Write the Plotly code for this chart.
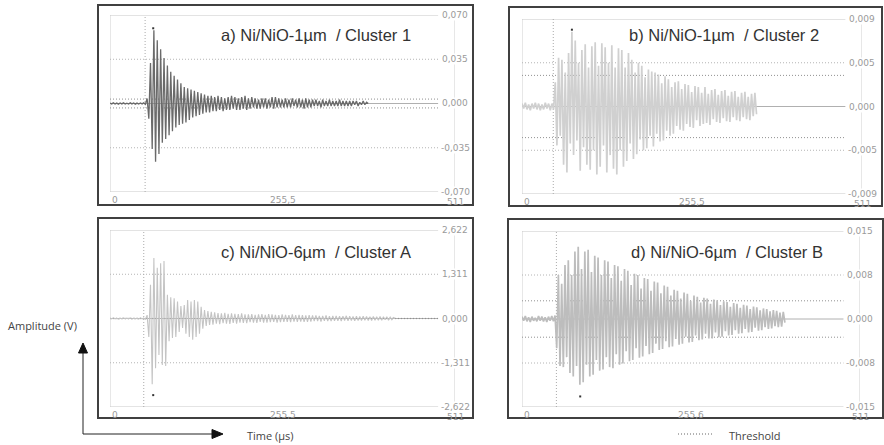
import plotly.graph_objects as go

# ---------------- data ----------------
DT = 2.5          # time step between successive half-cycle peaks (µs)
X_MAX = 511

PANEL_TITLES = ["a) Ni/NiO-1µm  / Cluster 1", "b) Ni/NiO-1µm  / Cluster 2",
                "c) Ni/NiO-6µm  / Cluster A", "d) Ni/NiO-6µm  / Cluster B"]

Y_RANGES = [0.070, 0.009, 2.622, 0.015]
Y_TICK_VALUES = [[0.070, 0.035, 0.0, -0.035, -0.070],
                 [0.009, 0.0045, 0.0, -0.0045, -0.009],
                 [2.622, 1.311, 0.0, -1.311, -2.622],
                 [0.015, 0.0075, 0.0, -0.0075, -0.015]]
Y_TICK_LABELS = [["0,070", "0,035", "0,000", "-0,035", "-0,070"],
                 ["0,009", "0,005", "0,000", "-0,005", "-0,009"],
                 ["2,622", "1,311", "0,000", "-1,311", "-2,622"],
                 ["0,015", "0,008", "0,000", "-0,008", "-0,015"]]
X_TICK_VALUES = [0, 255.5, 511]
X_TICK_LABELS = [["0", "255,5", "511"], ["0", "255,5", "511"],
                 ["0", "255,5", "511"], ["0", "255,6", "511"]]

THRESHOLDS = [0.0035, 0.0032, 0.0032, 0.0031]
PRETRIGGER_T = [52, 47, 50, 52]
PEAK_T = [64, 75, 64, 88]
PEAK_V = [0.0595, 0.0079, -2.27, -0.0132]

WAVE_A = [
    0.0004, -0.0003, 0.0005, -0.0004, 0.0003, -0.0005, 0.0004, -0.0003, 0.0005, -0.0004,
    0.0003, -0.0004, 0.0005, -0.0003, 0.0004, -0.0005, 0.0003, -0.0004, 0.0004, -0.0003,
    0.0005, -0.0006,
    0.004, -0.012, 0.032, -0.036, 0.058, -0.046, 0.050, -0.040, 0.043, -0.031,
    0.036, -0.028, 0.030, -0.025, 0.025, -0.022, 0.022, -0.019, 0.019, -0.017,
    0.016, -0.016, 0.013, -0.015, 0.012, -0.013, 0.011, -0.011, 0.010, -0.010,
    0.009, -0.009, 0.008, -0.008, 0.007, -0.007, 0.006, -0.007, 0.006, -0.006,
    0.005, -0.006, 0.006, -0.005, 0.005, -0.006, 0.004, -0.005, 0.005, -0.005,
    0.006, -0.004, 0.005, -0.005, 0.004, -0.005, 0.005, -0.004, 0.006, -0.005,
    0.004, -0.004, 0.005, -0.003, 0.004, -0.004, 0.003, -0.004, 0.004, -0.003,
    0.004, -0.004, 0.003, -0.003, 0.005, -0.004, 0.005, -0.003, 0.004, -0.003,
    0.003, -0.003, 0.004, -0.003, 0.003, -0.003, 0.004, -0.002, 0.003, -0.003,
    0.004, -0.003, 0.003, -0.004, 0.004, -0.003, 0.003, -0.003, 0.003, -0.002,
    0.003, -0.002, 0.002, -0.003, 0.003, -0.002, 0.002, -0.002, 0.003, -0.002,
    0.002, -0.002, 0.002, -0.002, 0.003, -0.002, 0.002, -0.002, 0.002, -0.002,
    0.002, -0.002, 0.002, -0.001, 0.002, -0.002, 0.001, -0.001, 0.002, -0.001,
    0.001, 0.000]

WAVE_B = [
    0.0003, -0.0002, 0.0004, -0.0003, 0.0002, -0.0004, 0.0003, -0.0002, 0.0004, -0.0003,
    0.0003, -0.0004, 0.0002, -0.0003, 0.0004, -0.0002, 0.0003, -0.0004, 0.0003, -0.0003,
    0.0025, -0.0040, 0.0050, -0.0030, 0.0048, -0.0060, 0.0035, -0.0068, 0.0055, -0.0038,
    0.0077, -0.0050, 0.0068, -0.0035, 0.0045, -0.0066, 0.0058, -0.0042, 0.0064, -0.0060,
    0.0040, -0.0065, 0.0062, -0.0045, 0.0066, -0.0070, 0.0042, -0.0062, 0.0065, -0.0040,
    0.0061, -0.0068, 0.0045, -0.0050, 0.0063, -0.0064, 0.0040, -0.0070, 0.0060, -0.0045,
    0.0058, -0.0062, 0.0040, -0.0056, 0.0055, -0.0038, 0.0048, -0.0054, 0.0035, -0.0049,
    0.0045, -0.0034, 0.0042, -0.0045, 0.0030, -0.0043, 0.0038, -0.0030, 0.0036, -0.0041,
    0.0035, -0.0028, 0.0033, -0.0036, 0.0024, -0.0035, 0.0031, -0.0025, 0.0028, -0.0030,
    0.0020, -0.0028, 0.0025, -0.0020, 0.0026, -0.0024, 0.0018, -0.0025, 0.0023, -0.0018,
    0.0022, -0.0021, 0.0015, -0.0022, 0.0021, -0.0014, 0.0020, -0.0020, 0.0014, -0.0018,
    0.0020, -0.0017, 0.0013, -0.0019, 0.0017, -0.0013, 0.0018, -0.0016, 0.0012, -0.0017,
    0.0016, -0.0012, 0.0017, -0.0015, 0.0011, -0.0016, 0.0015, -0.0011, 0.0016, -0.0014,
    0.0010, -0.0015, 0.0014, -0.0011, 0.0015, -0.0013, 0.0010, -0.0014, 0.0013, -0.0010,
    0.0014, -0.0008]

WAVE_C = [
    0.01, -0.01, 0.02, -0.01, 0.01, -0.02, 0.01, -0.01, 0.02, -0.01,
    0.01, -0.01, 0.02, -0.02, 0.01, -0.01, 0.01, -0.02, 0.02, -0.01,
    0.01, -0.02,
    0.10, -0.55, 1.00, -1.95, 1.79, -1.47, 1.50, -1.08, 1.64, -1.38,
    1.70, -1.41, 0.70, -0.67, 0.63, -0.58, 0.60, -0.55, 0.50, -0.40,
    0.37, -0.28, 0.40, -0.45, 0.55, -0.55, 0.50, -0.63, 0.55, -0.55,
    0.50, -0.45, 0.35, -0.30, 0.25, -0.22, 0.22, -0.19, 0.20, -0.18,
    0.18, -0.15, 0.16, -0.17, 0.15, -0.14, 0.17, -0.15, 0.14, -0.16,
    0.15, -0.13, 0.14, -0.15, 0.13, -0.12, 0.15, -0.13, 0.12, -0.14,
    0.12, -0.11, 0.13, -0.12, 0.11, -0.13, 0.12, -0.10, 0.13, -0.12,
    0.11, -0.12, 0.13, -0.11, 0.12, -0.10, 0.11, -0.12, 0.10, -0.11,
    0.12, -0.10, 0.11, -0.10, 0.10, -0.11, 0.12, -0.09, 0.10, -0.10,
    0.11, -0.09, 0.10, -0.10, 0.09, -0.10, 0.10, -0.09, 0.09, -0.08,
    0.09, -0.08, 0.08, -0.09, 0.08, -0.07, 0.09, -0.08, 0.07, -0.08,
    0.08, -0.07, 0.08, -0.07, 0.07, -0.08, 0.07, -0.06, 0.08, -0.07,
    0.07, -0.06, 0.06, -0.07, 0.07, -0.06, 0.06, -0.06, 0.07, -0.05,
    0.06, -0.06, 0.05, -0.06, 0.06, -0.05, 0.05, -0.05, 0.06, -0.05,
    0.05, -0.04, 0.05, -0.05, 0.04, -0.04, 0.03, 0.00]

WAVE_D = [
    0.0004, -0.0003, 0.0005, -0.0004, 0.0003, -0.0005, 0.0004, -0.0003, 0.0002, -0.0004,
    0.0005, -0.0003, 0.0004, -0.0004, 0.0003, -0.0005, 0.0004, -0.0003, 0.0005, -0.0004,
    0.0006,
    -0.0050, 0.0075, -0.0080, 0.0060, -0.0082, 0.0092, -0.0065, 0.0100, -0.0092, 0.0075,
    -0.0098, 0.0115, -0.0080, 0.0123, -0.0112, 0.0085, -0.0108, 0.0115, -0.0078, 0.0118,
    -0.0098, 0.0080, -0.0095, 0.0108, -0.0070, 0.0105, -0.0088, 0.0075, -0.0086, 0.0100,
    -0.0065, 0.0098, -0.0082, 0.0070, -0.0084, 0.0092, -0.0060, 0.0090, -0.0078, 0.0065,
    -0.0076, 0.0085, -0.0055, 0.0082, -0.0072, 0.0058, -0.0070, 0.0077, -0.0050, 0.0075,
    -0.0066, 0.0052, -0.0064, 0.0070, -0.0046, 0.0068, -0.0060, 0.0048, -0.0058, 0.0064,
    -0.0042, 0.0062, -0.0053, 0.0044, -0.0051, 0.0057, -0.0038, 0.0055, -0.0048, 0.0040,
    -0.0047, 0.0050, -0.0034, 0.0048, -0.0044, 0.0035, -0.0042, 0.0045, -0.0030, 0.0043,
    -0.0040, 0.0031, -0.0039, 0.0040, -0.0028, 0.0038, -0.0036, 0.0028, -0.0035, 0.0036,
    -0.0025, 0.0035, -0.0033, 0.0026, -0.0033, 0.0033, -0.0023, 0.0032, -0.0031, 0.0024,
    -0.0030, 0.0030, -0.0021, 0.0029, -0.0028, 0.0021, -0.0027, 0.0027, -0.0019, 0.0026,
    -0.0025, 0.0019, -0.0024, 0.0024, -0.0017, 0.0023, -0.0023, 0.0017, -0.0022, 0.0021,
    -0.0015, 0.0020, -0.0020, 0.0015, -0.0019, 0.0018, -0.0014, 0.0017, -0.0017, 0.0013,
    -0.0016, 0.0015, -0.0012, 0.0014, -0.0014, 0.0011, -0.0013, 0.0012, -0.0006]

WAVES = [WAVE_A, WAVE_B, WAVE_C, WAVE_D]
WAVE_COLORS = ["#6a6a6a", "#d0d0d0", "#c4c4c4", "#bdbdbd"]
WAVE_WIDTHS = [1.3, 1.7, 1.1, 1.7]

# ---------------- layout geometry (pixels) ----------------
W, H = 884, 445
PLOT_PX = [(110, 455, 15, 192), (522, 862, 19, 194),
           (110, 455, 230, 407), (522, 860, 231, 407)]
BOX_PX = [(98, 473, 5, 205), (509, 882, 7, 206),
          (98, 473, 218, 418), (508, 883, 219, 418)]
TITLE_PX = [(219, 35), (627, 35), (219, 252), (629, 252)]
GRID_END = 486
FINE_DOT = "1px,2px"


def px(x):
    return x / W


def py(y):
    return 1 - y / H


fig = go.Figure()
layout = dict(width=W, height=H, margin=dict(l=0, r=0, t=0, b=0),
              paper_bgcolor="white", plot_bgcolor="white", showlegend=False)
shapes = []
annotations = []

for i in range(4):
    k = "" if i == 0 else str(i + 1)
    xa, ya = "x" + k, "y" + k
    x0, x1, y0, y1 = PLOT_PX[i]
    R = Y_RANGES[i]
    layout["xaxis" + k] = dict(domain=[px(x0), px(x1)], range=[0, X_MAX], anchor=ya,
                               visible=False, fixedrange=True)
    layout["yaxis" + k] = dict(domain=[py(y1), py(y0)], range=[-R, R], anchor=xa,
                               visible=False, fixedrange=True)

    # frame lines
    light = dict(color="#cfcfcf", width=1)
    shapes.append(dict(type="line", xref=xa, yref=ya, x0=0, x1=0, y0=-R, y1=R, line=light, layer="below"))
    shapes.append(dict(type="line", xref=xa, yref=ya, x0=X_MAX, x1=X_MAX, y0=-R, y1=R, line=light, layer="below"))
    for v in Y_TICK_VALUES[i]:
        if abs(v) == R or v == 0:
            ln = dict(color="#c8c8c8" if v else "#b0b0b0", width=1)
        else:
            ln = dict(color="#b4b4b4", width=1, dash=FINE_DOT)
        shapes.append(dict(type="line", xref=xa, yref=ya, x0=0, x1=GRID_END, y0=v, y1=v,
                           line=ln, layer="below"))
    for s in (1, -1):
        shapes.append(dict(type="line", xref=xa, yref=ya, x0=0, x1=GRID_END,
                           y0=s * THRESHOLDS[i], y1=s * THRESHOLDS[i],
                           line=dict(color="#909090", width=1, dash=FINE_DOT), layer="below"))
    shapes.append(dict(type="line", xref=xa, yref=ya, x0=PRETRIGGER_T[i], x1=PRETRIGGER_T[i],
                       y0=-R, y1=R, line=dict(color="#aaaaaa", width=1, dash=FINE_DOT), layer="below"))

    # waveform
    wave = WAVES[i]
    t = [j * DT for j in range(len(wave))]
    fig.add_trace(go.Scatter(x=t, y=wave, mode="lines", xaxis=xa, yaxis=ya,
                             line=dict(color=WAVE_COLORS[i], width=WAVE_WIDTHS[i]), hoverinfo="skip"))
    fig.add_trace(go.Scatter(x=[PEAK_T[i]], y=[PEAK_V[i]], mode="markers", xaxis=xa, yaxis=ya,
                             marker=dict(color="#333", size=2, symbol="square"), hoverinfo="skip"))

    # y tick labels (right side)
    for v, lab in zip(Y_TICK_VALUES[i], Y_TICK_LABELS[i]):
        annotations.append(dict(xref=xa, yref=ya, x=X_MAX, y=v, text=lab, showarrow=False,
                                xanchor="center", yanchor="middle", bgcolor="white",
                                borderpad=0, font=dict(family="DejaVu Sans", size=9, color="#9a9a9a")))
    # x tick labels
    for v, lab in zip(X_TICK_VALUES, X_TICK_LABELS[i]):
        annotations.append(dict(xref=xa, yref=ya, x=v, y=-R, text=lab, showarrow=False,
                                xanchor="left" if v == 0 else "center", yanchor="top",
                                yshift=-1 if v != X_MAX else -3,
                                font=dict(family="DejaVu Sans", size=9, color="#9a9a9a")))
    # title
    tx, ty = TITLE_PX[i]
    annotations.append(dict(xref="paper", yref="paper", x=px(tx), y=py(ty), text=PANEL_TITLES[i],
                            showarrow=False, xanchor="left", yanchor="middle",
                            font=dict(family="Liberation Sans", size=16.5, color="#333")))
    # outer box
    bx0, bx1, by0, by1 = BOX_PX[i]
    shapes.append(dict(type="rect", xref="paper", yref="paper", x0=px(bx0), x1=px(bx1),
                       y0=py(by1), y1=py(by0), line=dict(color="#404040", width=2)))

# axis arrows (outside the panels)
dark = dict(color="#222", width=1)
shapes.append(dict(type="line", xref="paper", yref="paper", x0=px(83), x1=px(83),
                   y0=py(434), y1=py(350), line=dark))
shapes.append(dict(type="line", xref="paper", yref="paper", x0=px(83), x1=px(214),
                   y0=py(434), y1=py(434), line=dark))
shapes.append(dict(type="path", xref="paper", yref="paper",
                   path=f"M {px(83)} {py(343)} L {px(78.5)} {py(353)} L {px(87.5)} {py(353)} Z",
                   fillcolor="#111", line=dict(color="#111", width=1)))
shapes.append(dict(type="path", xref="paper", yref="paper",
                   path=f"M {px(223)} {py(434)} L {px(212)} {py(429.5)} L {px(212)} {py(438.5)} Z",
                   fillcolor="#111", line=dict(color="#111", width=1)))
# threshold legend line
shapes.append(dict(type="line", xref="paper", yref="paper", x0=px(678), x1=px(713),
                   y0=py(434), y1=py(434), line=dict(color="#666", width=1, dash=FINE_DOT)))

lab_font = dict(family="Open Sans", size=11, color="#444")
annotations.append(dict(xref="paper", yref="paper", x=px(42), y=py(325), text="Amplitude (V)",
                        showarrow=False, xanchor="center", yanchor="middle", font=lab_font))
annotations.append(dict(xref="paper", yref="paper", x=px(245), y=py(435), text="Time (µs)",
                        showarrow=False, xanchor="left", yanchor="middle", font=lab_font))
annotations.append(dict(xref="paper", yref="paper", x=px(727), y=py(435), text="Threshold",
                        showarrow=False, xanchor="left", yanchor="middle", font=lab_font))

layout["shapes"] = shapes
layout["annotations"] = annotations
fig.update_layout(**layout)
fig.write_html("out.html", config={"displayModeBar": False},
               post_script="document.body.style.margin='0';")
